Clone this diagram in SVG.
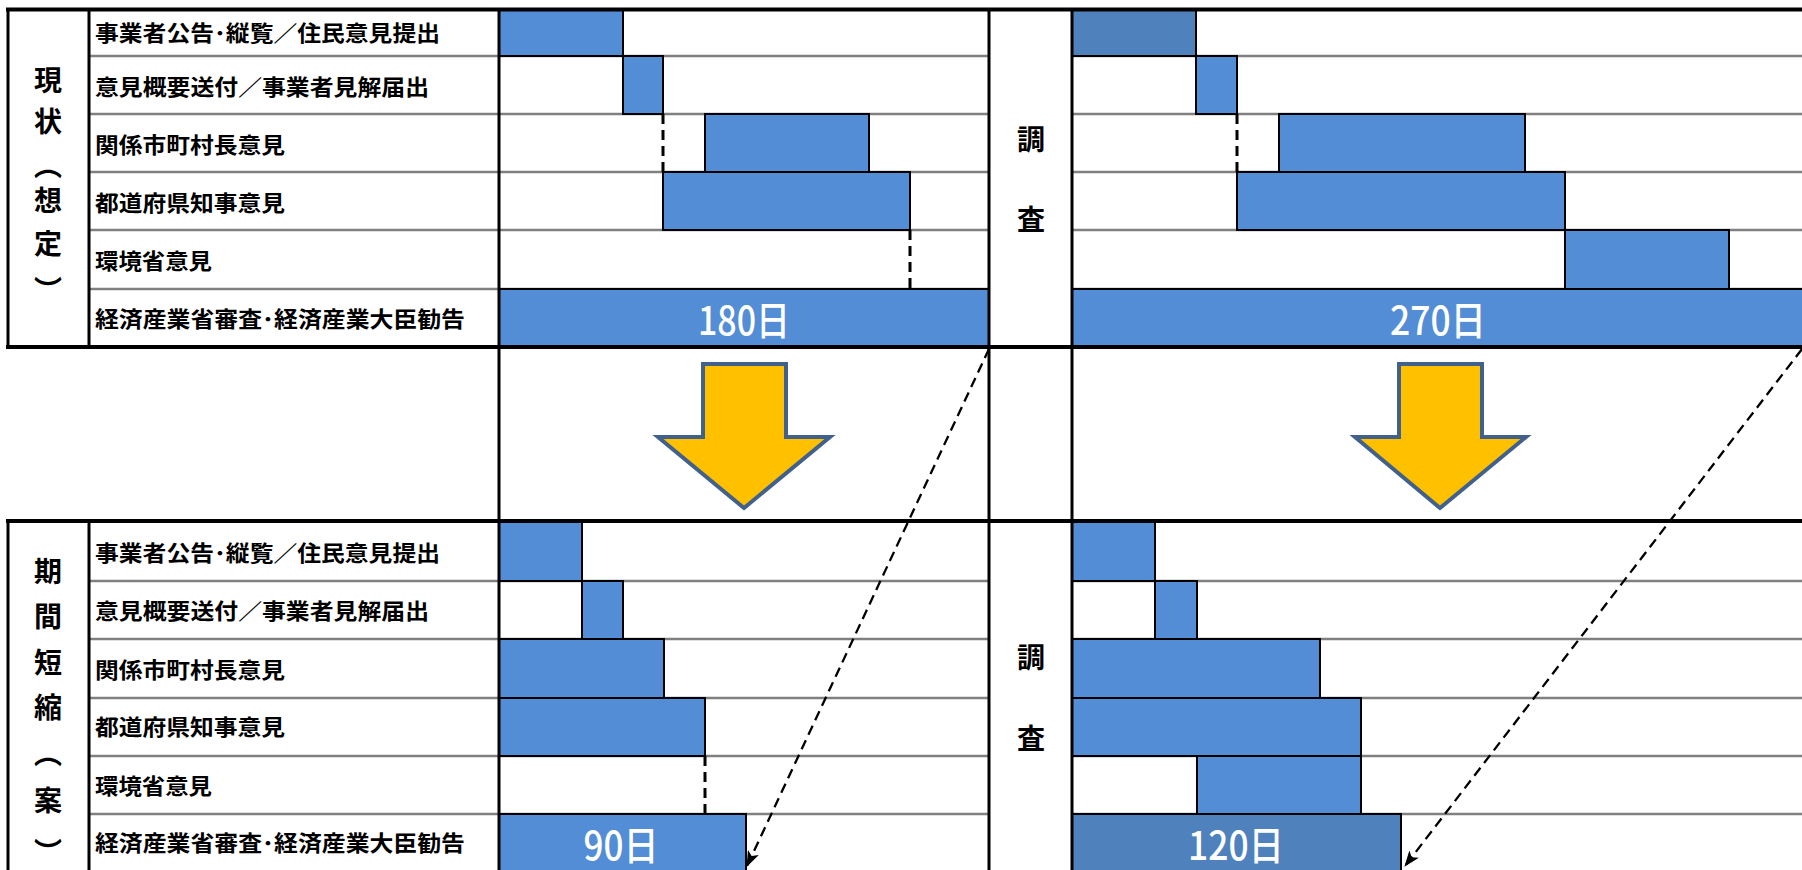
<svg xmlns="http://www.w3.org/2000/svg" width="1802" height="870" viewBox="0 0 1802 870">
<defs>
<style>
.grid{stroke:#808080;stroke-width:2.5;fill:none}
.blk{stroke:#000;stroke-width:3;fill:none}
.thk{stroke:#000;stroke-width:4;fill:none}
.bar{fill:#538DD5;stroke:#000;stroke-width:2}
.bard{fill:#4F81BD;stroke:#000;stroke-width:2}
.vd{stroke:#000;stroke-width:3;stroke-dasharray:10 6;fill:none}
.dd{stroke:#000;stroke-width:2.3;stroke-dasharray:10 6;fill:none}
.lbl{font-family:"Noto Sans CJK JP","Noto Sans CJK SC",sans-serif;font-weight:700;font-size:22px;fill:#000}
.big{font-family:"Noto Sans CJK JP","Noto Sans CJK SC",sans-serif;font-weight:700;font-size:28px;fill:#000;text-anchor:middle}
.num{font-family:"Noto Sans CJK JP","Noto Sans CJK SC",sans-serif;font-weight:500;font-size:40px;fill:#fff;text-anchor:middle}
.arr{fill:#FFC000;stroke:#41618C;stroke-width:4;stroke-linejoin:miter}
</style>
<marker id="ah" viewBox="0 0 16 12" refX="15" refY="6" markerWidth="16" markerHeight="12" markerUnits="userSpaceOnUse" orient="auto">
<path d="M0,0 L16,6 L0,12 L4,6 Z" fill="#000"/>
</marker>
</defs>
<rect x="0" y="0" width="1802" height="870" fill="#fff"/>

<g id="grid-lines">
<path class="grid" d="M89,56H989M1072,56H1802M89,114H989M1072,114H1802M89,172H989M1072,172H1802M89,230H989M1072,230H1802M89,289H989M1072,289H1802"/>
<path class="grid" d="M89,581H989M1072,581H1802M89,639H989M1072,639H1802M89,698H989M1072,698H1802M89,756H989M1072,756H1802M89,814H989M1072,814H1802"/>
</g>

<g id="bars-current-left">
<rect class="bar" x="499" y="10" width="124" height="46"/>
<rect class="bar" x="623" y="56" width="40" height="58"/>
<rect class="bar" x="705" y="114" width="164" height="58"/>
<rect class="bar" x="663" y="172" width="247" height="58"/>
<rect class="bar" x="499" y="289" width="490" height="58"/>
<text class="num" x="744" y="335" textLength="92" lengthAdjust="spacingAndGlyphs">180日</text>
</g>

<g id="bars-current-right">
<rect class="bard" x="1072" y="10" width="124" height="46"/>
<rect class="bar" x="1196" y="56" width="41" height="58"/>
<rect class="bar" x="1279" y="114" width="246" height="58"/>
<rect class="bar" x="1237" y="172" width="328" height="58"/>
<rect class="bar" x="1565" y="230" width="164" height="59"/>
<rect class="bar" x="1072" y="289" width="732" height="58"/>
<text class="num" x="1438" y="335" textLength="96" lengthAdjust="spacingAndGlyphs">270日</text>
</g>

<g id="bars-proposal-left">
<rect class="bar" x="499" y="521" width="83" height="60"/>
<rect class="bar" x="582" y="581" width="41" height="58"/>
<rect class="bar" x="499" y="639" width="165" height="59"/>
<rect class="bar" x="499" y="698" width="206" height="58"/>
<rect class="bar" x="499" y="814" width="247" height="60"/>
<text class="num" x="621" y="860" textLength="75" lengthAdjust="spacingAndGlyphs">90日</text>
</g>

<g id="bars-proposal-right">
<rect class="bar" x="1072" y="521" width="83" height="60"/>
<rect class="bar" x="1155" y="581" width="42" height="58"/>
<rect class="bar" x="1072" y="639" width="248" height="59"/>
<rect class="bar" x="1072" y="698" width="289" height="58"/>
<rect class="bar" x="1197" y="756" width="164" height="58"/>
<rect class="bard" x="1072" y="814" width="329" height="60"/>
<text class="num" x="1236" y="860" textLength="96" lengthAdjust="spacingAndGlyphs">120日</text>
</g>

<g id="frame">
<path class="thk" d="M6,9.5H1802M6,347H1802M6,521H1802"/>
<path class="blk" d="M8,9V347M8,521V870M89,9V347M89,521V870M499,9V870M989,9V870M1072,9V870"/>
</g>

<g id="connectors">
<path class="vd" d="M663,114V172M910,230V289M1237,114V172M705,756V814"/>
<path class="dd" d="M989,349L747,866" marker-end="url(#ah)"/>
<path class="dd" d="M1802,349L1405,866" marker-end="url(#ah)"/>
</g>

<g id="arrow-left">
<path class="arr" d="M703,364H786V437H830L744,508L658,437H703Z"/>
</g>
<g id="arrow-right">
<path class="arr" d="M1399,364H1482V437H1526L1440,508L1355,437H1399Z"/>
</g>

<g id="labels-current">
<text class="big" x="48" y="91">現</text>
<text class="big" x="48" y="132">状</text>
<text class="big" x="48" y="176">︵</text>
<text class="big" x="48" y="211">想</text>
<text class="big" x="48" y="254">定</text>
<text class="big" x="48" y="301">︶</text>
<text class="lbl" x="95" y="41" textLength="345" lengthAdjust="spacingAndGlyphs">事業者公告･縦覧／住民意見提出</text>
<text class="lbl" x="95" y="95" textLength="334" lengthAdjust="spacingAndGlyphs">意見概要送付／事業者見解届出</text>
<text class="lbl" x="95" y="153" textLength="190" lengthAdjust="spacingAndGlyphs">関係市町村長意見</text>
<text class="lbl" x="95" y="211" textLength="190" lengthAdjust="spacingAndGlyphs">都道府県知事意見</text>
<text class="lbl" x="95" y="269" textLength="117" lengthAdjust="spacingAndGlyphs">環境省意見</text>
<text class="lbl" x="95" y="327" textLength="370" lengthAdjust="spacingAndGlyphs">経済産業省審査･経済産業大臣勧告</text>
<text class="big" x="1031" y="150">調</text>
<text class="big" x="1031" y="230">査</text>
</g>

<g id="labels-proposal">
<text class="big" x="48" y="582">期</text>
<text class="big" x="48" y="627">間</text>
<text class="big" x="48" y="673">短</text>
<text class="big" x="48" y="718">縮</text>
<text class="big" x="48" y="764">︵</text>
<text class="big" x="48" y="811">案</text>
<text class="big" x="48" y="863">︶</text>
<text class="lbl" x="95" y="561" textLength="345" lengthAdjust="spacingAndGlyphs">事業者公告･縦覧／住民意見提出</text>
<text class="lbl" x="95" y="619" textLength="334" lengthAdjust="spacingAndGlyphs">意見概要送付／事業者見解届出</text>
<text class="lbl" x="95" y="678" textLength="190" lengthAdjust="spacingAndGlyphs">関係市町村長意見</text>
<text class="lbl" x="95" y="735" textLength="190" lengthAdjust="spacingAndGlyphs">都道府県知事意見</text>
<text class="lbl" x="95" y="794" textLength="117" lengthAdjust="spacingAndGlyphs">環境省意見</text>
<text class="lbl" x="95" y="851" textLength="370" lengthAdjust="spacingAndGlyphs">経済産業省審査･経済産業大臣勧告</text>
<text class="big" x="1031" y="668">調</text>
<text class="big" x="1031" y="749">査</text>
</g>
</svg>
